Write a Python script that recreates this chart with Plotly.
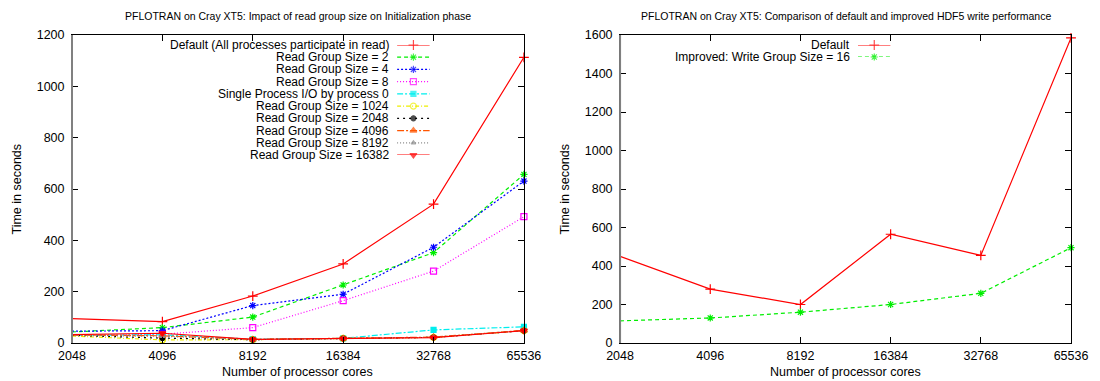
import plotly.graph_objects as go
import math

cores = [2048, 4096, 8192, 16384, 32768, 65536]
core_labels = ["2048", "4096", "8192", "16384", "32768", "65536"]

# Left chart: initialization phase (seconds)
init_names = [
    "Default (All processes participate in read)",
    "Read Group Size = 2",
    "Read Group Size = 4",
    "Read Group Size = 8",
    "Single Process I/O by process 0",
    "Read Group Size = 1024",
    "Read Group Size = 2048",
    "Read Group Size = 4096",
    "Read Group Size = 8192",
    "Read Group Size = 16382",
]
init_default = [95, 83, 183, 308, 541, 1113]
init_rgs2 = [43, 60, 101, 226, 352, 657]
init_rgs4 = [46, 48, 146, 190, 373, 631]
init_rgs8 = [28, 34, 60, 165, 280, 492]
init_single = [30, 32, 15, 18, 51, 63]
init_rgs1024 = [27, 12, 13, 18, 22, 48]
init_rgs2048 = [30, 19, 13, 18, 22, 48]
init_rgs4096 = [31, 28, 14, 18, 23, 49]
init_rgs8192 = [30, 26, 13, 18, 22, 48]
init_rgs16382 = [33, 38, 14, 17, 21, 48]
init_values = [init_default, init_rgs2, init_rgs4, init_rgs8, init_single,
               init_rgs1024, init_rgs2048, init_rgs4096, init_rgs8192, init_rgs16382]

# Right chart: HDF5 write (seconds)
write_names = ["Default", "Improved: Write Group Size = 16"]
write_default = [450, 280, 200, 565, 455, 1585]
write_improved = [115, 130, 160, 200, 258, 495]
write_values = [write_default, write_improved]

# styles (gnuplot-like)
init_styles = [
    dict(color="#ff0000", dash="solid", symbol="cross-thin-open", size=7),
    dict(color="#00ee00", dash="4px,3px", symbol="asterisk-open", size=6),
    dict(color="#0000ff", dash="2px,2px", symbol="asterisk-open", size=6),
    dict(color="#ff00ff", dash="1px,2px", symbol="square-open", size=6),
    dict(color="#00eeee", dash="6px,2px,2px,2px", symbol="square", size=5),
    dict(color="#eeee00", dash="4px,2px,1px,2px", symbol="circle-open", size=6),
    dict(color="#000000", dash="2px,4px", symbol="circle", size=5),
    dict(color="#ff5500", dash="7px,2px,2px,2px", symbol="triangle-up", size=6),
    dict(color="#888888", dash="1px,2px", symbol="triangle-up", size=4),
    dict(color="#ff0000", dash="solid", symbol="triangle-down", size=6),
]
write_styles = [
    dict(color="#ff0000", dash="solid", symbol="cross-thin-open", size=7),
    dict(color="#00ee00", dash="4px,3px", symbol="asterisk-open", size=6),
]

FONT = "Liberation Sans, Arial, Helvetica, sans-serif"
W, H = 1100, 381
L, R, T, B = 72, 20, 35, 38
PW, PH = W - L - R, H - T - B

def px(xp):
    return (xp - L) / PW

def py(yp):
    return (H - B - yp) / PH

fig = go.Figure()

def add_series(names, values, styles, xa, ya):
    for name, vals, st in zip(names, values, styles):
        fig.add_trace(go.Scatter(
            x=cores, y=vals, name=name, mode="lines+markers",
            xaxis=xa, yaxis=ya, showlegend=False, cliponaxis=False,
            line=dict(color=st["color"], dash=st["dash"], width=1.2),
            marker=dict(symbol=st["symbol"], size=st["size"], color=st["color"],
                        line=dict(color=st["color"], width=1.2)),
        ))

add_series(init_names, init_values, init_styles, "x", "y")
add_series(write_names, write_values, write_styles, "x2", "y2")

# gnuplot-style keys: text right-aligned, line sample on the right
def add_key(names, styles, xa, ya):
    for i, (name, st) in enumerate(zip(names, styles)):
        fig.add_trace(go.Scatter(
            x=[0, 0.5, 1], y=[i, i, i], mode="lines+markers",
            xaxis=xa, yaxis=ya, showlegend=False, cliponaxis=False, hoverinfo="skip",
            line=dict(color=st["color"], dash=st["dash"], width=1.2),
            marker=dict(symbol=st["symbol"], size=[0, st["size"], 0], color=st["color"],
                        line=dict(color=st["color"], width=1.2)),
        ))
        fig.add_annotation(x=0, y=i, xref=xa, yref=ya, text=name, showarrow=False,
                           xanchor="right", xshift=-6, font=dict(size=12, family=FONT, color="black"))

add_key(init_names, init_styles, "x3", "y3")
add_key(write_names, write_styles, "x4", "y4")

x_dom1 = [0, px(528)]
x_dom2 = [px(625), 1]

xcommon = dict(type="log", range=[math.log10(cores[0]), math.log10(cores[-1])],
               tickvals=cores, ticktext=core_labels, ticks="inside", ticklen=6,
               tickcolor="black", showline=True, linecolor="black", linewidth=1,
               mirror="ticks", showgrid=False, zeroline=False, ticklabelstandoff=1,
               tickfont=dict(size=12.5, family=FONT, color="black"))
ycommon = dict(ticks="inside", ticklen=6, tickcolor="black", showline=True,
               linecolor="black", linewidth=1, mirror="ticks", showgrid=False,
               zeroline=False, dtick=200, ticklabelstandoff=4,
               tickfont=dict(size=12.5, family=FONT, color="black"))

hidden = dict(visible=False, showgrid=False, zeroline=False, fixedrange=True)

fig.update_layout(
    width=W, height=H,
    margin=dict(l=L, r=R, t=T, b=B, pad=0),
    paper_bgcolor="white", plot_bgcolor="white",
    showlegend=False,
    xaxis=dict(domain=x_dom1, anchor="y", **xcommon),
    yaxis=dict(domain=[0, 1], anchor="x", range=[0, 1200], **ycommon),
    xaxis2=dict(domain=x_dom2, anchor="y2", **xcommon),
    yaxis2=dict(domain=[0, 1], anchor="x2", range=[0, 1600], **ycommon),
    xaxis3=dict(domain=[px(400), px(433)], anchor="y3", range=[0, 1], **hidden),
    yaxis3=dict(domain=[py(155), py(45)], anchor="x3", range=[len(init_names) - 1, 0], **hidden),
    xaxis4=dict(domain=[px(865), px(898)], anchor="y4", range=[0, 1], **hidden),
    yaxis4=dict(domain=[py(57), py(45)], anchor="x4", range=[len(write_names) - 1, 0], **hidden),
)

# gray left border like the reference
for xr, yr in (("x domain", "y domain"), ("x2 domain", "y2 domain")):
    fig.add_shape(type="line", xref=xr, yref=yr, x0=0, x1=0, y0=0, y1=1,
                  line=dict(color="#808080", width=2))

# titles
titles = [
    ("PFLOTRAN on Cray XT5: Impact of read group size on Initialization phase", (72 + 528) / 2),
    ("PFLOTRAN on Cray XT5: Comparison of default and improved HDF5 write performance", (625 + 1080) / 2),
]
for text, cx in titles:
    fig.add_annotation(x=px(cx), y=py(16), xref="paper", yref="paper", text=text,
                       showarrow=False, xanchor="center", yanchor="middle",
                       font=dict(size=10.5, family=FONT, color="black"))
for cx in ((72 + 528) / 2, (625 + 1080) / 2):
    fig.add_annotation(x=px(cx), y=py(372), xref="paper", yref="paper",
                       text="Number of processor cores", showarrow=False,
                       xanchor="center", yanchor="middle",
                       font=dict(size=12.5, family=FONT, color="black"))
for cx in (17, 569):
    fig.add_annotation(x=px(cx), y=0.5, xref="paper", yref="paper",
                       text="Time in seconds", showarrow=False, textangle=-90,
                       xanchor="center", yanchor="middle",
                       font=dict(size=12.5, family=FONT, color="black"))

fig.write_html("out.html", config={"displayModeBar": False},
               post_script="document.body.style.margin='0';document.body.style.overflow='hidden';")
